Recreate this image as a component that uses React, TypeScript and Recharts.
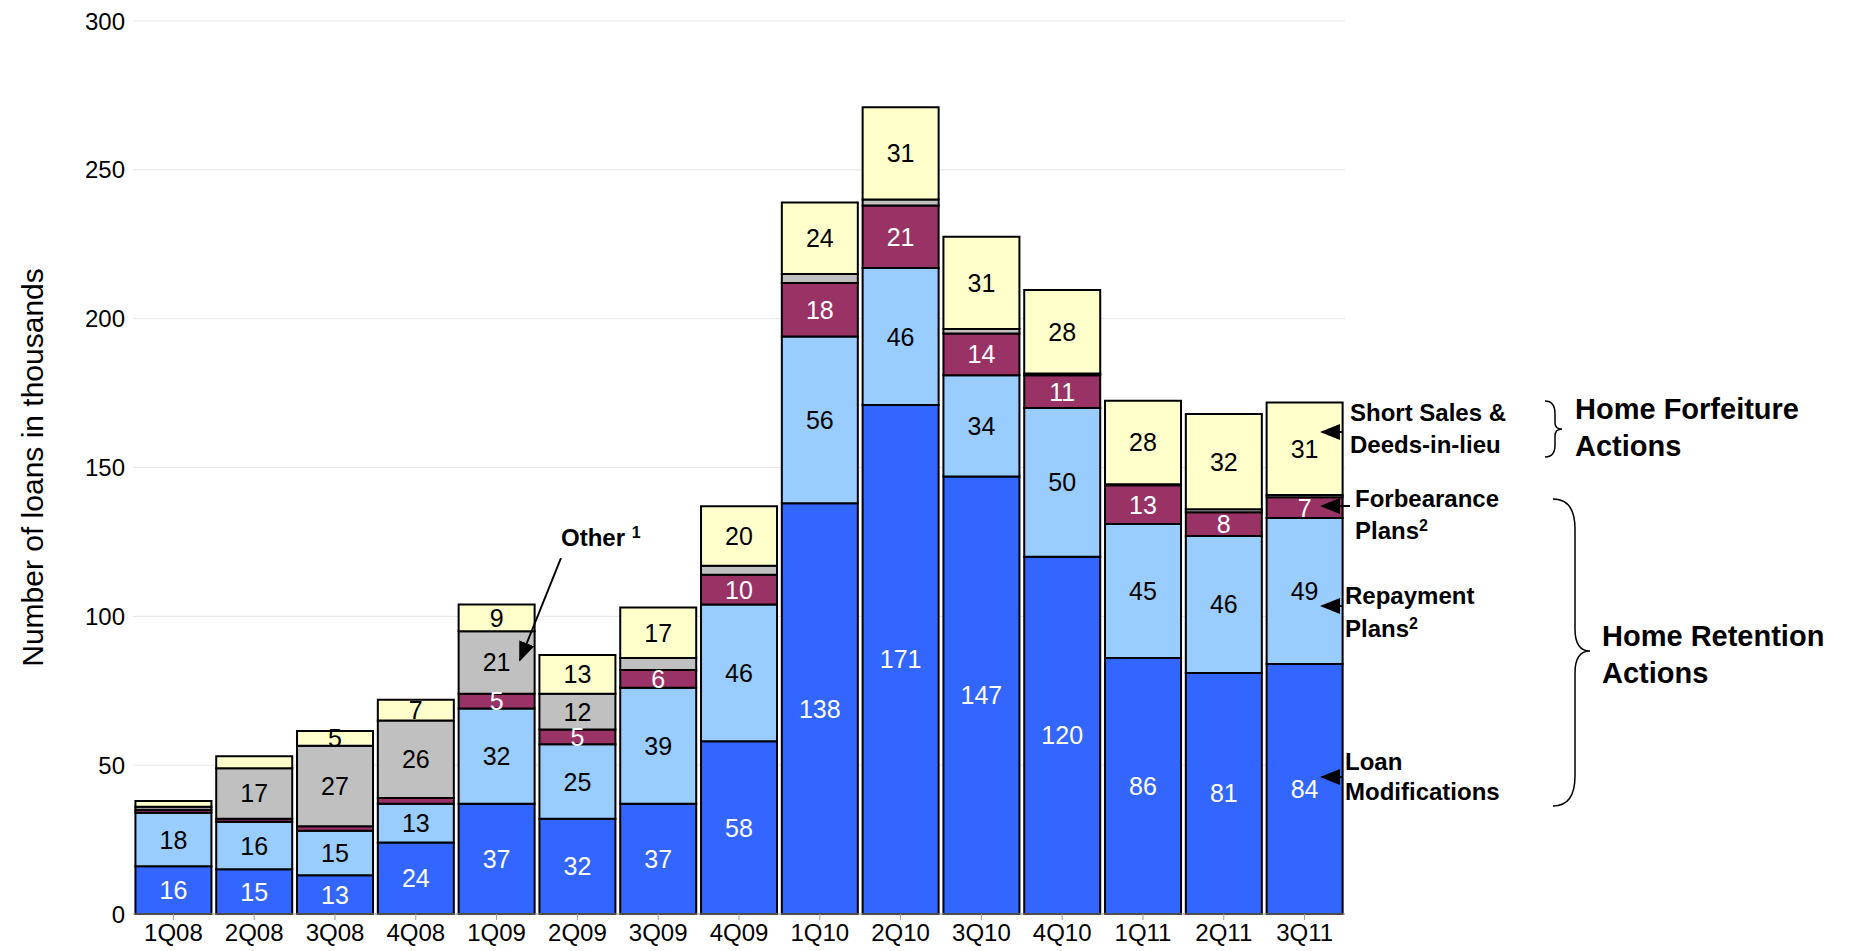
import { BarChart, Bar, XAxis, YAxis, CartesianGrid, LabelList } from "recharts";

const quarters = ["1Q08", "2Q08", "3Q08", "4Q08", "1Q09", "2Q09", "3Q09", "4Q09", "1Q10", "2Q10", "3Q10", "4Q10", "1Q11", "2Q11", "3Q11"];
const loanMods = [16, 15, 13, 24, 37, 32, 37, 58, 138, 171, 147, 120, 86, 81, 84];
const repayment = [18, 16, 15, 13, 32, 25, 39, 46, 56, 46, 34, 50, 45, 46, 49];
const forbearance = [1, 1, 1.5, 2, 5, 5, 6, 10, 18, 21, 14, 11, 13, 8, 7];
const other = [1, 17, 27, 26, 21, 12, 4, 3, 3, 2, 1.5, 0.6, 0.4, 1, 0.8];
const shortSales = [2, 4, 5, 7, 9, 13, 17, 20, 24, 31, 31, 28, 28, 32, 31];

const data = quarters.map((q, i) => ({
  q,
  mods: loanMods[i],
  repay: repayment[i],
  forb: forbearance[i],
  other: other[i],
  short: shortSales[i],
}));

const FONT = "'Liberation Sans', Arial, sans-serif";

const makeLabel = (color: string) => (props: any) => {
  const { x, y, width, height, value } = props;
  if (value < 5) return null;
  return (
    <text x={x + width / 2} y={y + height / 2} dy={9} textAnchor="middle" fill={color} fontSize={25} fontFamily={FONT}>
      {value}
    </text>
  );
};

const series = [
  { key: "mods", fill: "#3366FF", text: "#FFFFFF" },
  { key: "repay", fill: "#99CCFF", text: "#000000" },
  { key: "forb", fill: "#993366", text: "#FFFFFF" },
  { key: "other", fill: "#C0C0C0", text: "#000000" },
  { key: "short", fill: "#FFFFCC", text: "#000000" },
];

const bold = { fontFamily: FONT, fontWeight: 700, fill: "#000" } as const;

function Arrow({ x1, y1, x2, y2 }: { x1: number; y1: number; x2: number; y2: number }) {
  return <line x1={x1} y1={y1} x2={x2} y2={y2} stroke="#000" strokeWidth={2} markerEnd="url(#ah)" />;
}

export default function App() {
  return (
    <div style={{ position: "relative", width: 1840, height: 943, fontFamily: FONT }}>
      <BarChart width={1840} height={943} data={data} margin={{ top: 13, right: 503, bottom: 0, left: 0 }} barCategoryGap="3%">
        <CartesianGrid vertical={false} stroke="#E6E6E6" />
        <XAxis dataKey="q" tick={{ fontSize: 24, fill: "#000", fontFamily: FONT }} tickLine={{ stroke: "#999" }} axisLine={{ stroke: "#999" }} height={37} tickMargin={4} />
        <YAxis
          domain={[0, 300]}
          ticks={[0, 50, 100, 150, 200, 250, 300]}
          width={125}
          axisLine={false}
          tickLine={false}
          tick={{ fontSize: 24, fill: "#000", fontFamily: FONT }}
          label={{ value: "Number of loans in thousands", angle: -90, position: "insideLeft", offset: 24, style: { fontSize: 30, fill: "#000", fontFamily: FONT, textAnchor: "middle" } }}
        />
        {series.map((s) => (
          <Bar key={s.key} dataKey={s.key} stackId="a" fill={s.fill} stroke="#000" strokeWidth={2} isAnimationActive={false}>
            <LabelList dataKey={s.key} content={makeLabel(s.text)} />
          </Bar>
        ))}
      </BarChart>
      <svg width={1840} height={943} style={{ position: "absolute", left: 0, top: 0, pointerEvents: "none" }}>
        <defs>
          <marker id="ah" markerWidth="10" markerHeight="8" refX="9" refY="4" orient="auto">
            <path d="M0,0 L10,4 L0,8 z" fill="#000" />
          </marker>
        </defs>
        <text x={553} y={538} fontSize={24} {...bold}>Other <tspan fontSize={16} dy={-8}>1</tspan></text>
        <Arrow x1={553} y1={550} x2={512} y2={652} />

        <g transform="translate(-8,-9)">
          <text x={1350} y={422} fontSize={24} {...bold}>Short Sales &amp;</text>
          <text x={1350} y={454} fontSize={24} {...bold}>Deeds-in-lieu</text>
          <Arrow x1={1342} y1={433} x2={1322} y2={433} />
          <path d="M1545,402 Q1555,402 1555,415 L1555,424 Q1555,430 1562,430 Q1555,430 1555,437 L1555,446 Q1555,458 1545,458" fill="none" stroke="#000" strokeWidth={1.5} />
          <text x={1575} y={420} fontSize={29} {...bold}>Home Forfeiture</text>
          <text x={1575} y={457} fontSize={29} {...bold}>Actions</text>

          <text x={1355} y={508} fontSize={24} {...bold}>Forbearance</text>
          <text x={1355} y={540} fontSize={24} {...bold}>Plans<tspan fontSize={16} dy={-8}>2</tspan></text>
          <Arrow x1={1350} y1={507} x2={1322} y2={507} />

          <text x={1345} y={605} fontSize={24} {...bold}>Repayment</text>
          <text x={1345} y={638} fontSize={24} {...bold}>Plans<tspan fontSize={16} dy={-8}>2</tspan></text>
          <Arrow x1={1342} y1={607} x2={1322} y2={607} />

          <text x={1345} y={771} fontSize={24} {...bold}>Loan</text>
          <text x={1345} y={801} fontSize={24} {...bold}>Modifications</text>
          <Arrow x1={1342} y1={778} x2={1322} y2={778} />

          <path d="M1553,500 Q1575,500 1575,530 L1575,630 Q1575,652 1590,652 Q1575,652 1575,674 L1575,777 Q1575,807 1553,807" fill="none" stroke="#000" strokeWidth={1.5} />
          <text x={1602} y={647} fontSize={29} {...bold}>Home Retention</text>
          <text x={1602} y={684} fontSize={29} {...bold}>Actions</text>
        </g>
      </svg>
    </div>
  );
}
